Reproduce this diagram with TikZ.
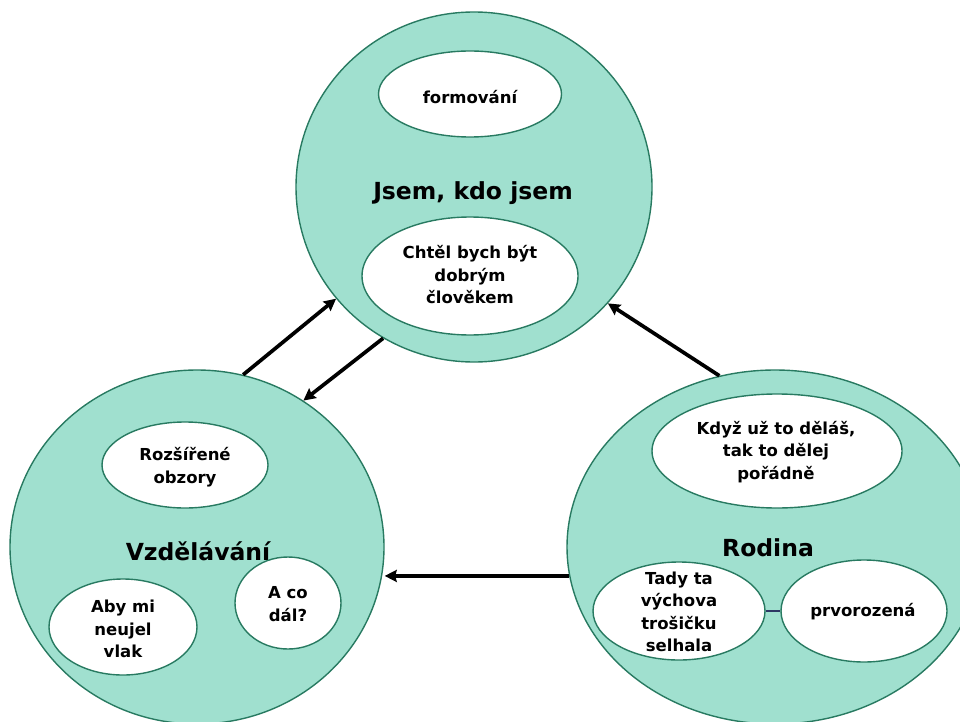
\documentclass[tikz,border=0pt]{standalone}
\usepackage{fontspec}
\setmainfont{DejaVu Sans}
\usetikzlibrary{shapes.geometric,arrows.meta}
\definecolor{tealfill}{RGB}{160,224,207}
\definecolor{tealline}{RGB}{40,122,97}
\definecolor{navyline}{RGB}{45,55,100}
\tikzset{
  x=1pt,y=-1pt,
  bigcirc/.style={ellipse,draw=tealline,line width=1.4pt,fill=tealfill,inner sep=0pt},
  inell/.style={ellipse,draw=tealline,line width=1.4pt,fill=white,inner sep=0pt},
  txt/.style={align=center,font=\fontsize{16.5}{22.5}\selectfont\bfseries,inner sep=0pt},
  title/.style={align=center,font=\fontsize{23.5}{28}\selectfont\bfseries,inner sep=0pt},
  arr/.style={line width=3.7pt,-{Stealth[inset=1.5pt,length=12pt,width=12pt]}}
}
\begin{document}
\begin{tikzpicture}
\useasboundingbox (0,0) rectangle (960,722);
% big circles
\node[bigcirc,minimum width=356,minimum height=350] (top) at (474,187) {};
\node[bigcirc,minimum width=374,minimum height=354] (bl) at (197,547) {};
\node[bigcirc,minimum width=416,minimum height=354] (br) at (775,547) {};
% titles
\node[title] (ttop) at (473,193) {Jsem, kdo jsem};
\node[title] (tbl) at (198,551) {Vzdělávání};
\node[title] (tbr) at (768,548) {Rodina};
% inner ellipses, top
\node[inell,minimum width=183,minimum height=86] (form) at (470,94) {};
\node[txt] (formt) at (470,97) {formování};
\node[inell,minimum width=216,minimum height=118] (chtel) at (470,276) {};
\node[txt] (chtelt) at (470,275) {Chtěl bych být\\dobrým\\člověkem};
% inner ellipses, bottom left
\node[inell,minimum width=166,minimum height=86] (rozs) at (185,465) {};
\node[txt] (rozst) at (185,467) {Rozšířené\\obzory};
\node[inell,minimum width=106,minimum height=92] (aco) at (288,603) {};
\node[txt] (acot) at (288,604) {A co\\dál?};
\node[inell,minimum width=148,minimum height=96] (aby) at (123,627) {};
\node[txt] (abyt) at (123,629) {Aby mi\\neujel\\vlak};
% inner ellipses, bottom right
\node[inell,minimum width=250,minimum height=114] (kdyz) at (777,451) {};
\node[txt] (kdyzt) at (776,452) {Když už to děláš,\\tak to dělej\\pořádně};
\node[inell,minimum width=172,minimum height=98] (tady) at (679,611) {};
\node[txt] (tadyt) at (679,612) {Tady ta\\výchova\\trošičku\\selhala};
\node[inell,minimum width=166,minimum height=102] (prvo) at (864,611) {};
\node[txt] (prvot) at (863,612) {prvorozená};
\draw[navyline,line width=1.6pt] (tady.east) -- (tady.east -| prvo.west);
% arrows
\draw[arr] (bl.75.4) -- (top.219.1);
\draw[arr] (top.239.4) -- (bl.54.2);
\draw[arr] (br.188.8) -- (br.188.8 -| bl.east);
\draw[arr] (br.108.9) -- (top.319);
\end{tikzpicture}
\end{document}
